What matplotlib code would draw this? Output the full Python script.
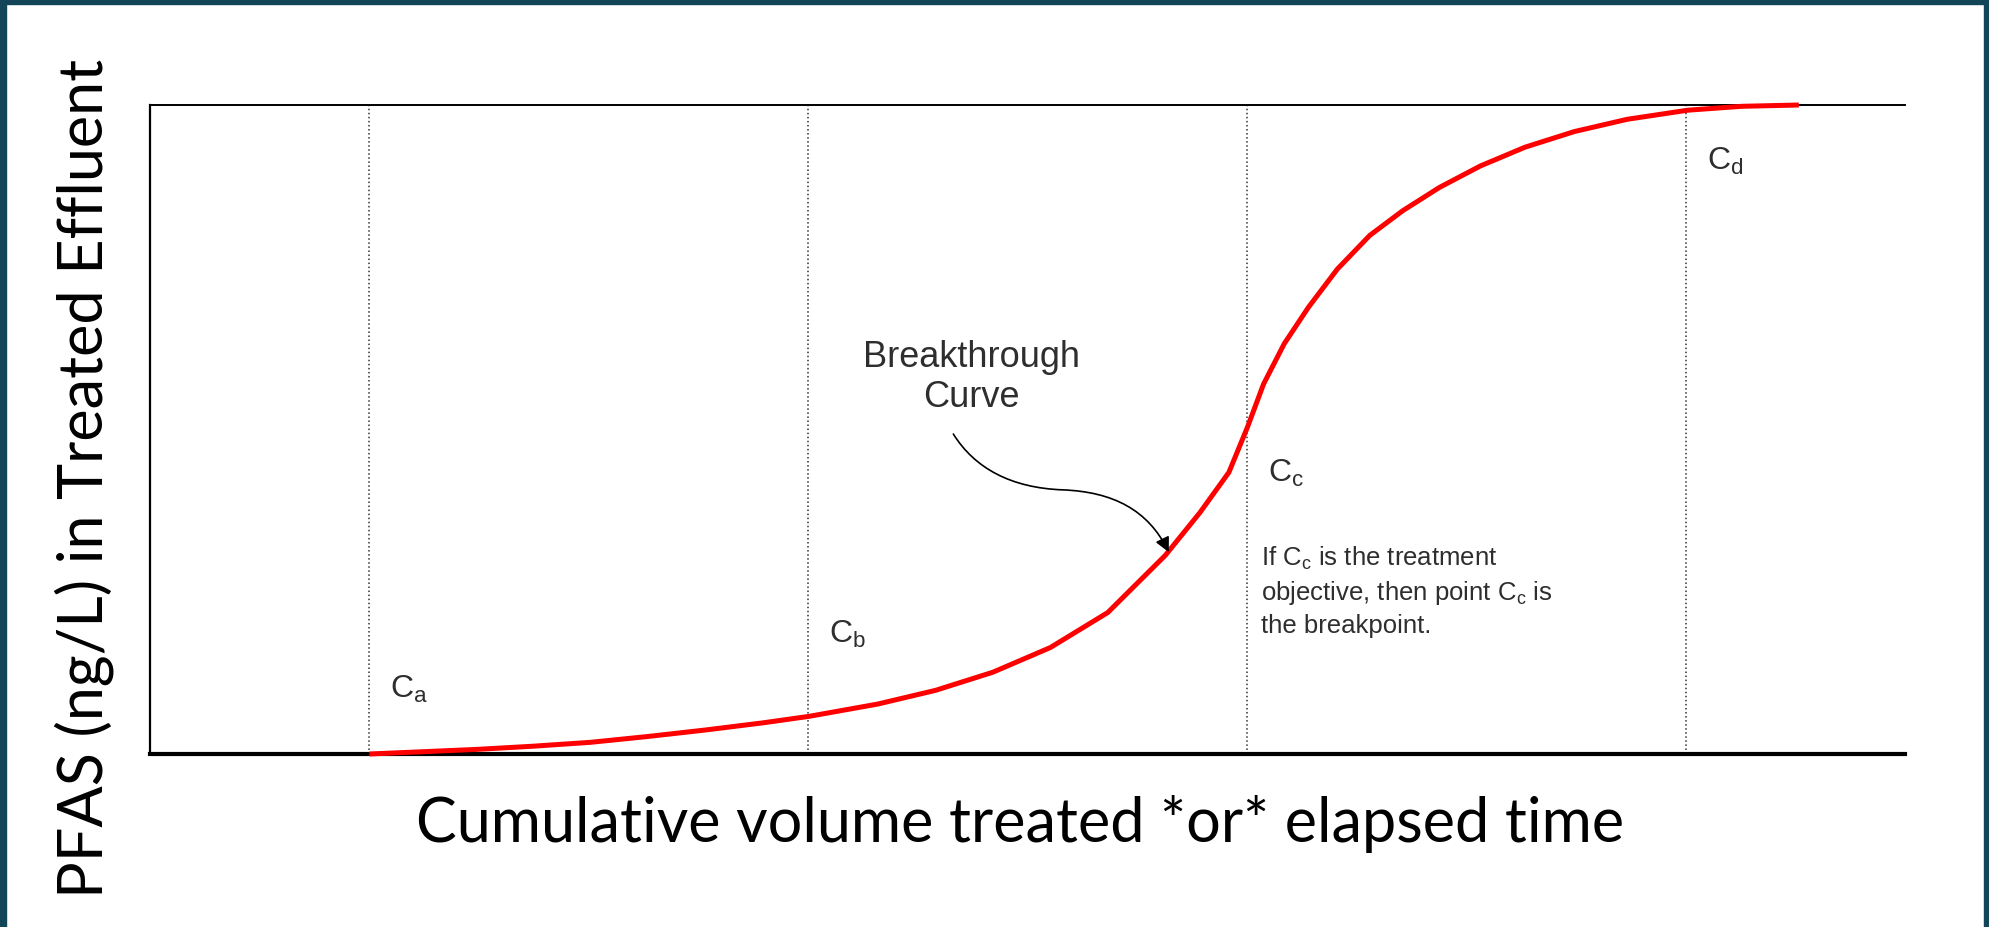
import matplotlib.pyplot as plt
from matplotlib.patches import Rectangle, FancyArrowPatch
from matplotlib.path import Path

# breakthrough curve (x in "zone" units, y as fraction of influent)
curve_x = [0.5, 0.742, 0.873, 1.004, 1.135, 1.266, 1.397, 1.502, 1.659, 1.79, 1.921,
           2.052, 2.183, 2.314, 2.393, 2.459, 2.501, 2.538, 2.585, 2.64, 2.706, 2.78,
           2.855, 2.939, 3.032, 3.134, 3.246, 3.367, 3.505, 3.628, 3.758]
curve_y = [0.0, 0.007, 0.012, 0.018, 0.027, 0.037, 0.048, 0.058, 0.077, 0.098, 0.126,
           0.164, 0.218, 0.306, 0.372, 0.434, 0.503, 0.57, 0.632, 0.688, 0.747, 0.799,
           0.837, 0.873, 0.906, 0.935, 0.959, 0.978, 0.992, 0.998, 1.0]

marker_x = [0.5, 1.5, 2.5, 3.5]
marker_labels = ['a', 'b', 'c', 'd']
label_y = [0.088, 0.173, 0.421, 0.901]

plt.rcParams['mathtext.fontset'] = 'custom'
plt.rcParams['mathtext.rm'] = 'Liberation Sans'
plt.rcParams['mathtext.it'] = 'Liberation Sans'

TXT = '#2e2e2e'
BORDER = '#134559'

fig = plt.figure(figsize=(19.9, 9.28), dpi=100)
fig.patch.set_facecolor('white')

# dark frame round the slide (top, left, right)
fig.patches.append(Rectangle((0, 1 - 5 / 928), 1, 5 / 928, transform=fig.transFigure, color=BORDER, zorder=0))
fig.patches.append(Rectangle((0, 0), 6 / 1990, 1, transform=fig.transFigure, color=BORDER, zorder=0))
fig.patches.append(Rectangle((1 - 6 / 1990, 0), 6 / 1990, 1, transform=fig.transFigure, color=BORDER, zorder=0))

ax = fig.add_axes([150 / 1990, 1 - 755 / 928, (1905 - 150) / 1990, (755 - 106) / 928])
ax.set_xlim(0, 4)
ax.set_ylim(0, 1)
ax.set_xticks([])
ax.set_yticks([])
ax.spines['right'].set_visible(False)
ax.spines['top'].set_linewidth(1.4)
ax.spines['left'].set_linewidth(1.6)
ax.spines['bottom'].set_linewidth(3.0)

for xv in marker_x:
    ax.axvline(xv, color='#333333', linestyle=':', linewidth=1.1, zorder=1)

ax.plot(curve_x, curve_y, color='#ff0000', linewidth=3.6, solid_capstyle='butt',
        solid_joinstyle='round', zorder=3, clip_on=False)

for xv, lab, yv in zip(marker_x, marker_labels, label_y):
    ax.text(xv + 0.048, yv, r'$\mathrm{C_%s}$' % lab, fontsize=23, color=TXT,
            ha='left', va='baseline')

ax.text(1.872, 0.639, 'Breakthrough\nCurve', fontsize=26, color=TXT, family='Liberation Sans',
        ha='center', va='top', multialignment='center', linespacing=1.17)

ax.text(2.532, 0.324,
        r'If $\mathrm{C_c}$ is the treatment' + '\n' +
        r'objective, then point $\mathrm{C_c}$ is' + '\n' + 'the breakpoint.',
        fontsize=18.5, color=TXT, family='Liberation Sans', ha='left', va='top', linespacing=1.35)

# curved pointer from the label to the curve
verts = [(1.831, 0.493), (1.88, 0.440), (1.963, 0.410), (2.080, 0.407),
         (2.195, 0.404), (2.275, 0.376), (2.322, 0.311)]
codes = [Path.MOVETO, Path.CURVE4, Path.CURVE4, Path.CURVE4, Path.CURVE4, Path.CURVE4, Path.CURVE4]
arrow = FancyArrowPatch(path=Path(verts, codes), arrowstyle='-|>', mutation_scale=22,
                        color='black', linewidth=1.2, transform=ax.transData, zorder=4)
ax.add_patch(arrow)

fig.text(1020 / 1990, 1 - 824 / 928, 'Cumulative volume treated *or* elapsed time',
         fontsize=44, family='Lato', ha='center', va='center', color='black')
fig.text(84 / 1990, 1 - 478 / 928, 'PFAS (ng/L) in Treated Effluent',
         fontsize=44, family='Lato', rotation=90, ha='center', va='center', color='black')

fig.savefig('out.png', dpi=100, facecolor='white')
